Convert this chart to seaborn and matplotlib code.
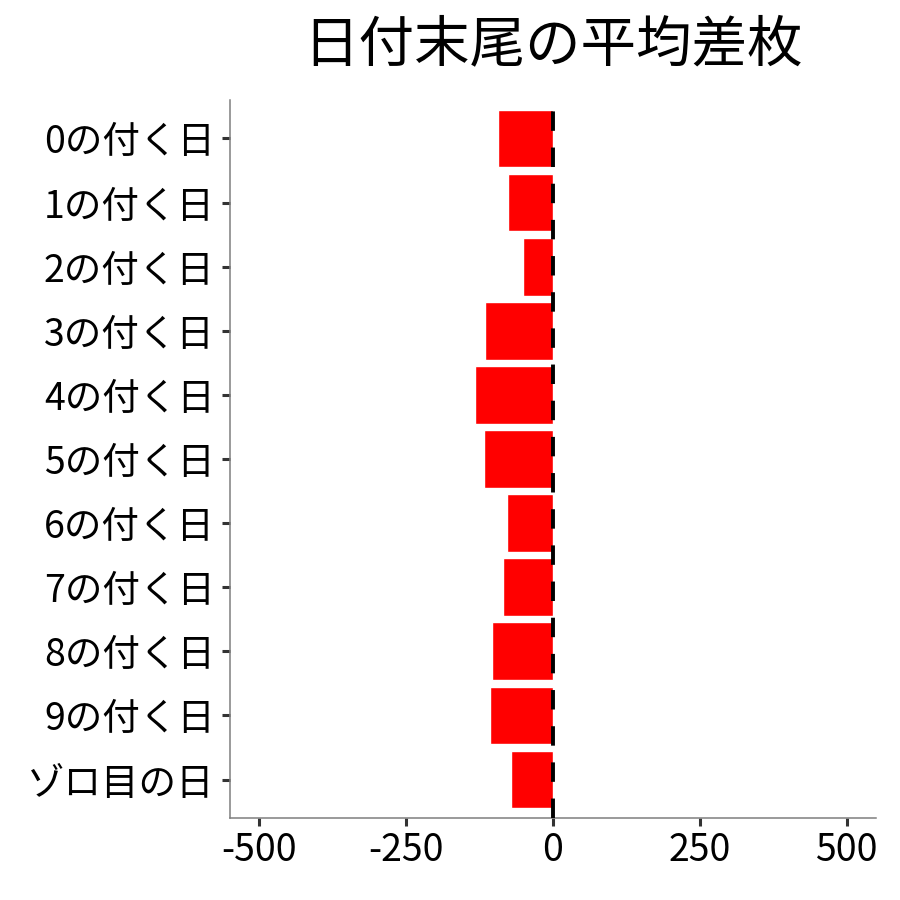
import matplotlib
matplotlib.use("Agg")
import matplotlib.pyplot as plt
import seaborn as sns
import pandas as pd

# データ
days = ["0の付く日", "1の付く日", "2の付く日", "3の付く日", "4の付く日",
        "5の付く日", "6の付く日", "7の付く日", "8の付く日", "9の付く日", "ゾロ目の日"]
avg_diff = [-93.6, -76.6, -51.1, -116.3, -133.3, -118.0, -78.3, -85.1, -104.4, -107.8, -72.0]
x_ticks = [-500, -250, 0, 250, 500]

df = pd.DataFrame({"day": days, "diff": avg_diff})

sns.set_theme(style="ticks")
plt.rcParams["font.family"] = ["Noto Sans CJK JP", "DejaVu Sans"]

fig = plt.figure(figsize=(9, 9), dpi=100)
ax = fig.add_axes([0.2556, 0.0911, 0.7178, 0.7978])

sns.barplot(data=df, x="diff", y="day", color="#ff0000", saturation=1,
            width=0.9, orient="h", ax=ax)

ax.axvline(0, color="black", lw=2.8, linestyle=(0, (5.0, 4.3)), zorder=5)

ax.set_xlim(-550, 550)
ax.set_ylim(10.6, -0.6)
ax.set_xticks(x_ticks)
ax.set_xticklabels([str(t) for t in x_ticks])
ax.set_xlabel("")
ax.set_ylabel("")

ax.tick_params(axis="both", labelsize=27, length=6, width=2.2, color="#333333",
               labelcolor="black", pad=3)
ax.tick_params(axis="y", pad=5)
for side in ["top", "right"]:
    ax.spines[side].set_visible(False)
for side in ["left", "bottom"]:
    ax.spines[side].set_color("#7f7f7f")
    ax.spines[side].set_linewidth(1.1)

fig.text(0.614, 0.95, "日付末尾の平均差枚", fontsize=40, color="black",
         ha="center", va="center")

fig.savefig("out.png", dpi=100, facecolor="white")
